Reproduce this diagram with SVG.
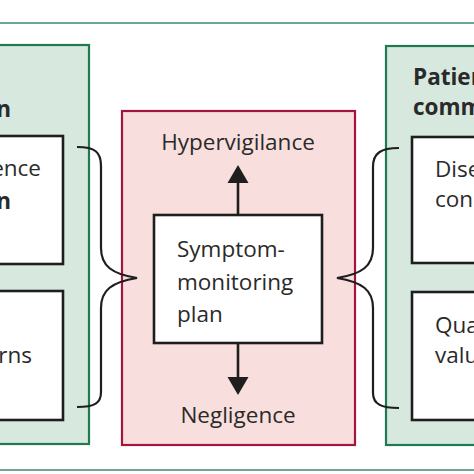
<svg xmlns="http://www.w3.org/2000/svg" width="474" height="474" viewBox="0 0 474 474">
<style>
.panel-g{fill:#d7e8df;stroke:#1f7a4f;stroke-width:2.2}
.panel-p{fill:#f8dfdd;stroke:#a3153f;stroke-width:2.2}
.box{fill:#ffffff;stroke:#1e1e1e;stroke-width:2.6}
.t{font-family:"Open Sans","Noto Sans",sans-serif;font-size:22.5px;fill:#2a2a2a}
.b{font-weight:bold}
.rule{stroke:#3f8a68;stroke-width:1.5}
.conn{fill:none;stroke:#1e1e1e;stroke-width:2.2}
.arr{fill:none;stroke:#1e1e1e;stroke-width:2.6}
</style>
<rect width="474" height="474" fill="#ffffff"/>
<line class="rule" x1="0" y1="23" x2="474" y2="23"/>
<line class="rule" x1="0" y1="470" x2="474" y2="470"/>

<g id="left-panel">
<rect class="panel-g" x="-10" y="45" width="99" height="399"/>
<text class="t b" x="11" y="117" text-anchor="end">n</text>
</g>
<g id="left-box-top">
<rect class="box" x="-10" y="136" width="73" height="128"/>
<text class="t" x="41" y="176" text-anchor="end">ence</text>
<text class="t b" x="11" y="209" text-anchor="end">n</text>
</g>
<g id="left-box-bottom">
<rect class="box" x="-10" y="291" width="73" height="129"/>
<text class="t" x="32" y="363" text-anchor="end">rns</text>
</g>

<g id="center-panel">
<rect class="panel-p" x="122" y="111" width="233" height="334"/>
</g>
<g id="hypervigilance">
<text class="t" x="238" y="150" text-anchor="middle">Hypervigilance</text>
</g>
<g id="plan">
<rect class="box" x="154" y="215" width="168" height="128"/>
<text class="t" x="177" y="257">Symptom-</text>
<text class="t" x="177" y="290">monitoring</text>
<text class="t" x="177" y="322">plan</text>
</g>
<g id="negligence">
<text class="t" x="238" y="423" text-anchor="middle">Negligence</text>
</g>

<g id="right-panel">
<rect class="panel-g" x="386" y="46" width="98" height="399"/>
<text class="t b" x="413" y="85">Patien</text>
<text class="t b" x="413" y="115">comm</text>
</g>
<g id="right-box-top">
<rect class="box" x="412" y="137" width="72" height="126"/>
<text class="t" x="435" y="177">Dise</text>
<text class="t" x="435" y="207">con</text>
</g>
<g id="right-box-bottom">
<rect class="box" x="412" y="292" width="72" height="128"/>
<text class="t" x="435" y="333">Qua</text>
<text class="t" x="435" y="363">valu</text>
</g>

<g id="connectors">
<line class="arr" x1="238" y1="214" x2="238" y2="180"/>
<polygon points="238,165 227.5,183 248.5,183" fill="#1e1e1e"/>
<line class="arr" x1="238" y1="344" x2="238" y2="379"/>
<polygon points="238,395 227.5,377 248.5,377" fill="#1e1e1e"/>
<path class="conn" d="M77,147 C95,147 101,152 101,166 V248 C101,266 112,274 137,278 C112,282 101,290 101,308 V392 C101,403 95,407 77,407"/>
<path class="conn" d="M399,148 C381,148 373,153 373,167 V248 C373,266 362,274 337,278 C362,282 373,290 373,308 V393 C373,404 381,408 399,408"/>
</g>
</svg>
